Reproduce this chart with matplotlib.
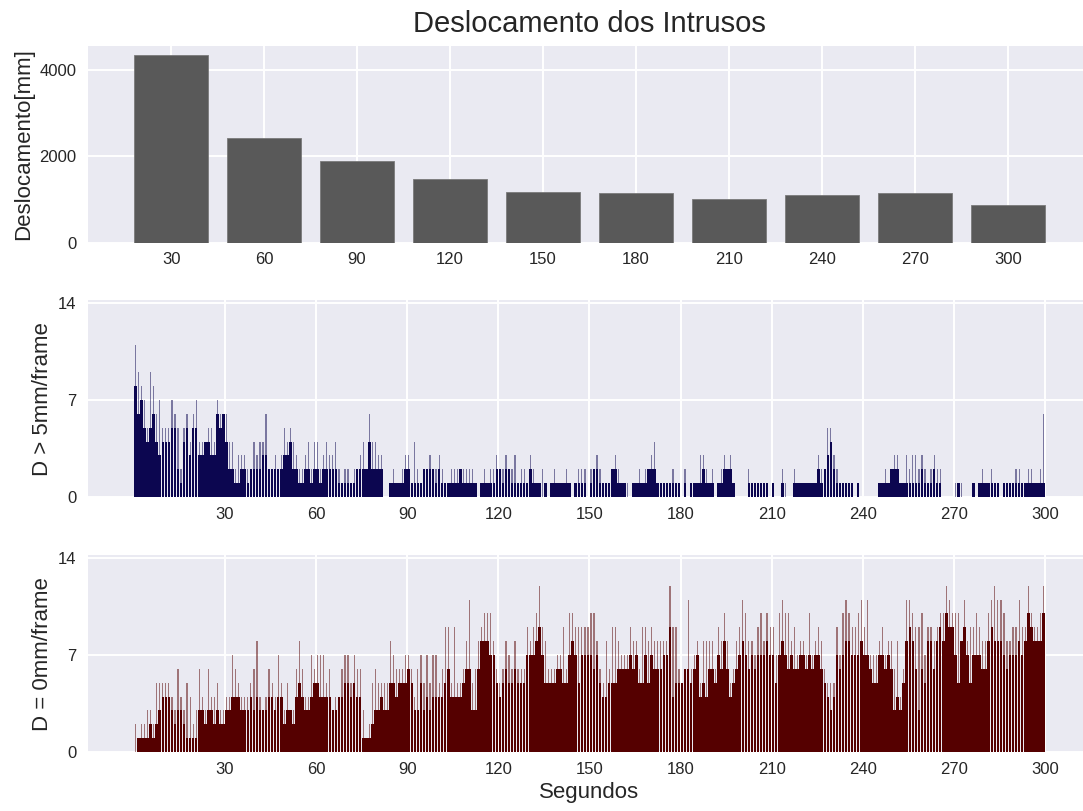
import matplotlib
matplotlib.use("Agg")
import matplotlib.pyplot as plt
import numpy as np

plt.style.use("seaborn-v0_8-darkgrid")
plt.rcParams["font.family"] = ["Liberation Sans", "DejaVu Sans"]
plt.rcParams["text.color"] = "#262626"
plt.rcParams["axes.labelcolor"] = "#262626"
plt.rcParams["xtick.color"] = "#262626"
plt.rcParams["ytick.color"] = "#262626"

# Displacement accumulated in each 30 s window
window_labels = ["30", "60", "90", "120", "150", "180", "210", "240", "270", "300"]
displacement_mm = [4345, 2417, 1891, 1475, 1166, 1150, 1011, 1104, 1150, 873]

# Intruders moving more than 5 mm per frame, one value per second (0-299 s)
fast_peak = [
    11, 9, 8, 7, 5, 9, 8, 6, 7, 5, 5, 5, 7, 6, 5, 2, 5, 6, 4, 6, 7, 4, 4, 4, 5, 5, 4, 7, 6, 6,
    6, 4, 4, 2, 3, 3, 3, 2, 2, 4, 3, 4, 4, 6, 2, 2, 3, 2, 3, 5, 4, 5, 4, 3, 2, 2, 3, 4, 2, 4,
    4, 2, 3, 4, 3, 3, 4, 2, 1, 2, 2, 1, 2, 2, 3, 4, 2, 6, 4, 4, 3, 3, 0, 0, 1, 2, 1, 1, 2, 3,
    3, 1, 4, 2, 1, 2, 2, 3, 2, 2, 3, 2, 1, 1, 2, 2, 2, 2, 2, 2, 2, 2, 1, 0, 1, 2, 1, 2, 2, 3,
    2, 2, 3, 2, 2, 3, 1, 2, 2, 1, 3, 2, 1, 1, 2, 1, 0, 1, 2, 1, 1, 1, 2, 1, 0, 1, 2, 2, 2, 0,
    2, 2, 3, 2, 1, 1, 1, 2, 3, 2, 1, 1, 1, 0, 1, 1, 2, 1, 2, 2, 3, 4, 1, 1, 1, 1, 1, 2, 1, 1,
    0, 2, 0, 1, 1, 1, 3, 3, 2, 1, 2, 0, 1, 2, 3, 2, 3, 1, 0, 0, 0, 0, 2, 1, 1, 1, 1, 1, 1, 0,
    1, 0, 0, 2, 1, 0, 0, 2, 1, 1, 1, 1, 1, 1, 1, 3, 2, 2, 5, 5, 3, 2, 1, 1, 1, 1, 1, 0, 1, 0,
    0, 0, 0, 0, 0, 1, 1, 2, 1, 2, 3, 3, 1, 1, 3, 2, 3, 3, 2, 3, 2, 1, 2, 3, 2, 2, 0, 0, 0, 0,
    1, 1, 1, 0, 0, 0, 1, 0, 1, 2, 1, 1, 2, 1, 1, 0, 1, 1, 1, 1, 2, 2, 1, 1, 2, 2, 1, 1, 2, 6,
]
fast_base = [
    8, 6, 7, 5, 4, 5, 6, 4, 3, 4, 4, 4, 5, 5, 2, 1, 4, 5, 3, 5, 5, 3, 3, 4, 4, 3, 3, 6, 5, 6,
    4, 2, 2, 1, 1, 2, 2, 1, 2, 2, 2, 2, 3, 3, 2, 2, 2, 2, 2, 3, 3, 4, 2, 2, 1, 1, 2, 2, 1, 2,
    2, 1, 2, 2, 2, 2, 2, 1, 1, 1, 1, 1, 1, 2, 2, 2, 2, 4, 2, 2, 2, 2, 0, 0, 1, 1, 1, 1, 1, 2,
    2, 1, 1, 1, 1, 2, 2, 2, 2, 1, 2, 1, 1, 1, 1, 1, 1, 2, 1, 1, 1, 1, 1, 0, 1, 1, 1, 1, 1, 2,
    2, 1, 2, 2, 1, 1, 1, 1, 1, 1, 2, 1, 1, 1, 0, 1, 0, 1, 1, 1, 1, 1, 1, 1, 0, 1, 1, 1, 1, 0,
    1, 2, 2, 1, 1, 1, 1, 2, 2, 1, 1, 1, 0, 0, 1, 1, 1, 1, 1, 2, 2, 2, 1, 1, 1, 1, 1, 1, 1, 1,
    0, 1, 0, 1, 1, 1, 1, 2, 1, 1, 1, 0, 1, 1, 2, 2, 2, 1, 0, 0, 0, 0, 1, 1, 1, 1, 1, 1, 1, 0,
    1, 0, 0, 1, 0, 0, 0, 1, 1, 1, 1, 1, 1, 1, 1, 2, 1, 2, 3, 4, 2, 1, 1, 1, 1, 1, 1, 0, 1, 0,
    0, 0, 0, 0, 0, 1, 1, 1, 1, 2, 2, 2, 1, 1, 1, 1, 1, 1, 1, 2, 1, 1, 1, 2, 1, 1, 0, 0, 0, 0,
    0, 1, 0, 0, 0, 0, 1, 0, 1, 1, 1, 1, 1, 1, 1, 0, 1, 1, 1, 1, 1, 1, 1, 1, 1, 1, 1, 1, 1, 1,
]

# Intruders standing still (0 mm per frame), one value per second (0-299 s)
still_peak = [
    2, 1, 2, 2, 3, 3, 2, 5, 5, 5, 5, 5, 4, 3, 6, 4, 3, 5, 4, 2, 3, 6, 4, 3, 6, 4, 4, 5, 3, 3,
    4, 4, 7, 6, 5, 4, 4, 4, 5, 6, 8, 4, 3, 4, 6, 5, 4, 7, 5, 3, 5, 3, 3, 6, 8, 6, 4, 4, 7, 6,
    7, 7, 7, 5, 6, 3, 4, 4, 6, 7, 7, 5, 7, 6, 6, 3, 1, 2, 5, 6, 5, 5, 5, 5, 8, 7, 6, 6, 6, 7,
    7, 6, 4, 6, 7, 5, 7, 5, 7, 7, 5, 6, 9, 9, 5, 9, 5, 5, 6, 8, 11, 5, 6, 8, 9, 10, 10, 10, 8, 6,
    5, 6, 8, 7, 6, 8, 6, 6, 6, 9, 8, 9, 10, 12, 9, 8, 6, 6, 6, 7, 7, 9, 6, 10, 10, 9, 9, 9, 9, 9,
    10, 10, 8, 6, 5, 8, 6, 9, 9, 8, 7, 7, 7, 9, 8, 8, 6, 9, 9, 8, 9, 8, 8, 8, 8, 8, 12, 9, 9, 6,
    5, 6, 11, 6, 7, 8, 5, 8, 8, 8, 8, 6, 9, 8, 10, 8, 5, 6, 8, 9, 11, 10, 8, 8, 7, 9, 10, 8, 10, 9,
    9, 7, 10, 11, 10, 10, 8, 9, 7, 8, 8, 7, 10, 7, 8, 9, 8, 6, 5, 5, 5, 9, 7, 10, 11, 10, 9, 9, 10, 11,
    9, 11, 7, 7, 7, 8, 9, 7, 8, 8, 6, 8, 4, 6, 11, 11, 10, 9, 9, 10, 7, 9, 9, 8, 9, 10, 10, 12, 11, 10,
    10, 10, 8, 11, 8, 9, 9, 10, 9, 8, 8, 10, 11, 12, 11, 11, 10, 8, 8, 9, 9, 11, 9, 9, 12, 10, 9, 9, 10, 12,
]
still_base = [
    0, 1, 1, 1, 1, 2, 1, 2, 3, 4, 4, 4, 3, 2, 3, 3, 2, 1, 1, 1, 1, 3, 3, 2, 3, 3, 2, 3, 2, 2,
    3, 3, 4, 4, 4, 3, 3, 3, 4, 3, 4, 3, 3, 3, 4, 4, 3, 4, 4, 2, 3, 3, 2, 4, 5, 4, 3, 3, 4, 5,
    5, 4, 4, 4, 4, 3, 3, 4, 4, 5, 5, 4, 5, 4, 4, 1, 1, 1, 2, 3, 3, 4, 3, 3, 5, 5, 4, 5, 5, 5,
    6, 5, 3, 3, 5, 3, 4, 3, 4, 4, 4, 4, 5, 6, 4, 4, 4, 4, 5, 6, 6, 3, 3, 6, 8, 8, 8, 7, 7, 5,
    4, 5, 6, 5, 5, 6, 5, 5, 5, 7, 7, 7, 8, 9, 7, 5, 5, 5, 5, 6, 6, 5, 5, 7, 8, 7, 5, 7, 7, 7,
    7, 6, 7, 5, 4, 4, 5, 5, 5, 6, 6, 6, 6, 7, 6, 7, 5, 5, 7, 5, 7, 6, 6, 6, 7, 7, 9, 4, 5, 5,
    5, 6, 6, 5, 6, 7, 4, 5, 4, 6, 6, 5, 7, 6, 8, 6, 4, 5, 6, 7, 8, 7, 6, 7, 6, 7, 7, 7, 8, 7,
    7, 5, 7, 8, 7, 6, 7, 6, 6, 7, 7, 6, 7, 6, 7, 7, 6, 5, 4, 3, 4, 7, 6, 7, 8, 8, 7, 7, 7, 8,
    7, 7, 6, 5, 5, 7, 7, 6, 7, 6, 3, 4, 3, 5, 8, 9, 8, 6, 3, 6, 5, 8, 8, 6, 8, 9, 8, 10, 9, 9,
    7, 5, 8, 9, 7, 5, 7, 7, 7, 6, 6, 8, 9, 8, 8, 8, 7, 6, 7, 7, 7, 8, 7, 8, 10, 9, 8, 8, 8, 10,
]

second_ticks = [30, 60, 90, 120, 150, 180, 210, 240, 270, 300]

GRID_BG = "#EAEAF2"
FAST_COLOR = "#0c0650"
STILL_COLOR = "#550000"

fig = plt.figure(figsize=(10.83, 8.11), dpi=100)
W, H = 1083.0, 811.0
left = 88.4 / W
width = (1090.5 - 88.4) / W
height = 196.7 / H

ax1 = fig.add_axes([left, (H - 242.7) / H, width, height])
ax2 = fig.add_axes([left, (H - 497.0) / H, width, height])
ax3 = fig.add_axes([left, (H - 752.0) / H, width, height])

for ax in (ax1, ax2, ax3):
    ax.set_facecolor(GRID_BG)
    ax.grid(True, color="white", linewidth=1.4)
    ax.set_axisbelow(True)
    for sp in ax.spines.values():
        sp.set_visible(False)
    ax.tick_params(axis="both", length=0, labelsize=12)
    ax.tick_params(axis="x", pad=7)
    ax.tick_params(axis="y", pad=8.5)

# Top panel: displacement per window
pos = np.arange(len(window_labels))
ax1.bar(pos, displacement_mm, width=0.8, color="#595959", edgecolor="#7a7a7a", linewidth=0.6)
ax1.set_xticks(pos, window_labels)
ax1.set_yticks([0, 2000, 4000])
ax1.set_ylabel("Deslocamento[mm]", fontsize=16)
ax1.set_title("Deslocamento dos Intrusos", fontsize=21, pad=10)

# Per-second panels: faint thin bars for the peaks, solid bars for the bulk
t = np.arange(len(fast_peak)) + 0.5


def per_second(ax, peak, base, color, label):
    ax.bar(t, peak, width=0.4, color=color, alpha=0.5, linewidth=0)
    ax.bar(t, base, width=0.85, color=color, linewidth=0)
    ax.set_xlim(-15, 315)
    ax.set_ylim(0, 14.2)
    ax.set_yticks([0, 7, 14])
    ax.set_xticks(second_ticks, [str(s) for s in second_ticks])
    ax.set_ylabel(label, fontsize=16)


per_second(ax2, fast_peak, fast_base, FAST_COLOR, "D > 5mm/frame")
per_second(ax3, still_peak, still_base, STILL_COLOR, "D = 0mm/frame")
ax3.set_xlabel("Segundos", fontsize=16, labelpad=4)

fig.savefig("out.png", dpi=100)
